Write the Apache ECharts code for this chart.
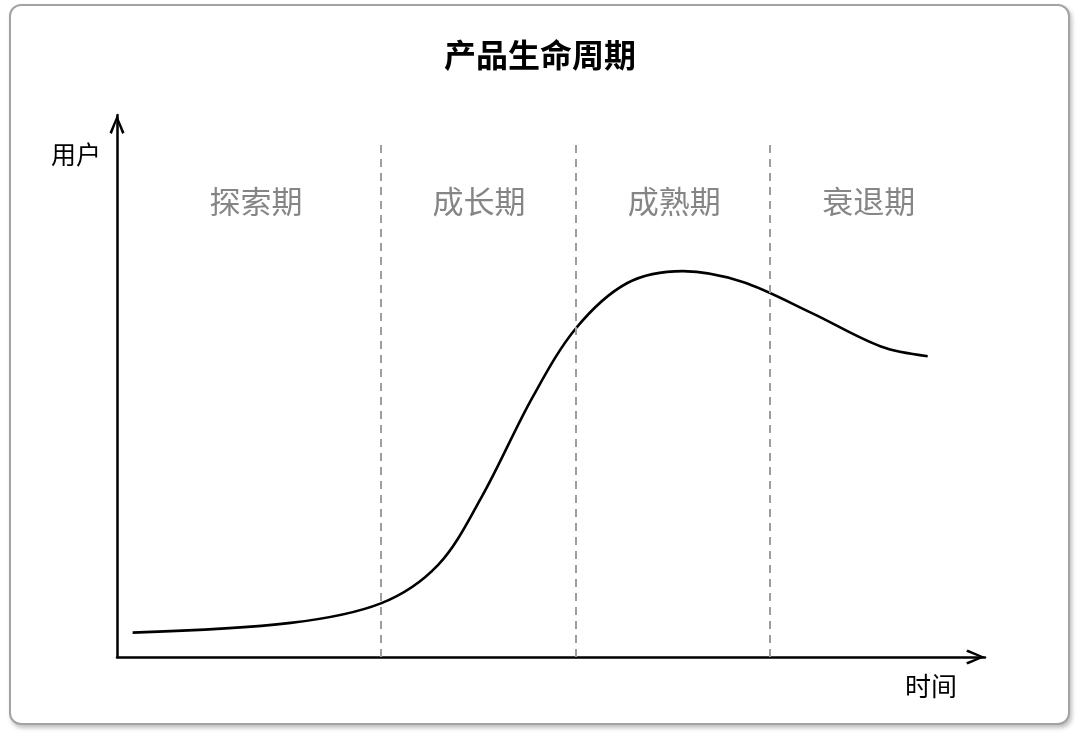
<!DOCTYPE html>
<html>
<head>
<meta charset="utf-8">
<title>产品生命周期</title>
<script src="https://cdn.jsdelivr.net/npm/echarts@6/dist/echarts.min.js"></script>
<style>
  html, body { margin: 0; padding: 0; background: #fff; }
  #card {
    position: absolute; left: 9px; top: 4px; width: 1057px; height: 717px;
    border: 2px solid #a3a3a3; border-radius: 12px;
    box-shadow: 2px 3px 4px rgba(0, 0, 0, 0.25);
    background: #fff;
  }
  #main { position: absolute; left: 0; top: 0; width: 1080px; height: 739px; }
</style>
</head>
<body>
<div id="card"></div>
<div id="main"></div>
<script>
// curve (time 0..100, users 0..100)
const timeX = [1.8, 20.0, 30.4, 37.0, 42.0, 47.9, 52.9, 58.8, 65.2, 72.1, 80.0, 88.0, 93.4]
const users = [4.5, 6.3, 9.9, 17.0, 29.5, 48.0, 60.7, 69.0, 71.2, 69.2, 63.5, 57.3, 55.5]

// stages
const stageNames = ['探索期', '成长期', '成熟期', '衰退期']
const stageLabelX = [16.0, 41.7, 64.2, 86.6]
const stageLabelY = 84.1
const stageBounds = [30.4, 52.9, 75.2]
const boundTop = 94.5

const FONT = "'Noto Sans CJK SC', 'Noto Sans', sans-serif"
// open chevron, pointing up
const ARROW = 'path://M7,0 L14,16.2 L11.8,17.6 L7,5 L2.2,17.6 L0,16.2 Z'

const chart = echarts.init(document.getElementById('main'), null, { renderer: 'canvas' })

const axisLine = {
    show: true,
    symbol: ['none', ARROW],
    symbolSize: [15, 19],
    symbolOffset: [0, -9.5],
    lineStyle: { color: '#000', width: 2.5 }
}

chart.setOption({
    backgroundColor: 'transparent',
    textStyle: { fontFamily: FONT },
    animation: false,
    title: {
        text: '产品生命周期',
        left: 'center',
        top: 39,
        padding: 0,
        textStyle: { fontSize: 32, fontWeight: 'bold', color: '#000', fontFamily: FONT }
    },
    grid: { left: 117, right: 95, top: 115, bottom: 82, containLabel: false },
    xAxis: {
        type: 'value',
        min: 0,
        max: 100,
        name: '时间',
        nameLocation: 'end',
        nameGap: -54,
        nameTextStyle: { fontSize: 26, color: '#000', align: 'center', verticalAlign: 'top', padding: [16, 0, 0, 0], fontFamily: FONT },
        axisLine,
        axisTick: { show: false },
        axisLabel: { show: false },
        splitLine: { show: false }
    },
    yAxis: {
        type: 'value',
        min: 0,
        max: 100,
        name: '用户',
        nameLocation: 'end',
        nameGap: -39,
        nameTextStyle: { fontSize: 25, color: '#000', align: 'right', verticalAlign: 'middle', padding: [0, 16, 0, 0], fontFamily: FONT },
        axisLine,
        axisTick: { show: false },
        axisLabel: { show: false },
        splitLine: { show: false }
    },
    series: [
        {
            name: '用户',
            type: 'line',
            smooth: 0.33,
            showSymbol: false,
            silent: true,
            lineStyle: { color: '#000', width: 2.6 },
            data: timeX.map((x, i) => [x, users[i]]),
            markLine: {
                silent: true,
                symbol: ['none', 'none'],
                label: { show: false },
                lineStyle: { color: '#9e9e9e', width: 2, type: [8, 6] },
                data: stageBounds.map(x => [{ coord: [x, 0] }, { coord: [x, boundTop] }])
            }
        },
        {
            name: '阶段',
            type: 'scatter',
            symbolSize: 0,
            silent: true,
            label: {
                show: true,
                position: 'inside',
                formatter: p => p.name,
                fontSize: 31,
                color: '#666',
                fontFamily: FONT
            },
            data: stageNames.map((n, i) => ({ name: n, value: [stageLabelX[i], stageLabelY] }))
        }
    ]
})
</script>
</body>
</html>
